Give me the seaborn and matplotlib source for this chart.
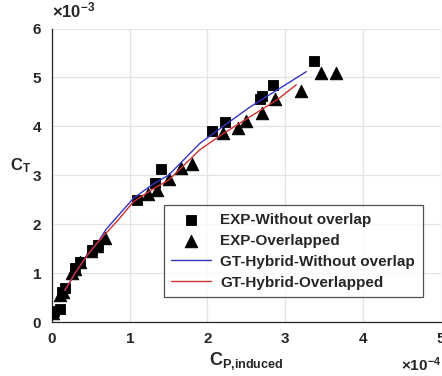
import numpy as np
import pandas as pd
import matplotlib
matplotlib.use("Agg")
import matplotlib.pyplot as plt
import seaborn as sns
from matplotlib.ticker import ScalarFormatter

# EXP data (x in 1e-4, y in 1e-3)
sq_x = [0.03, 0.10, 0.13, 0.17, 0.30, 0.36, 0.52, 0.60, 1.10, 1.33, 1.40,
        2.06, 2.22, 2.67, 2.70, 2.84, 3.37]
sq_y = [0.22, 0.26, 0.62, 0.70, 1.10, 1.22, 1.48, 1.58, 2.50, 2.85, 3.12,
        3.90, 4.08, 4.57, 4.62, 4.85, 5.34]

tri_x = [0.02, 0.11, 0.15, 0.26, 0.30, 0.36, 0.50, 0.58, 0.68, 1.24, 1.35,
         1.50, 1.66, 1.80, 2.20, 2.39, 2.50, 2.70, 2.87, 3.20, 3.46, 3.65]
tri_y = [0.18, 0.55, 0.62, 1.00, 1.08, 1.22, 1.45, 1.55, 1.72, 2.61, 2.70,
         2.92, 3.14, 3.24, 3.87, 3.96, 4.11, 4.27, 4.57, 4.72, 5.09, 5.09]

# GT-Hybrid curves
blue_x = [0.17, 0.30, 0.45, 0.60, 0.70, 0.85, 1.05, 1.30, 1.50, 1.90, 2.20, 2.55, 2.90, 3.27]
blue_y = [0.65, 1.00, 1.35, 1.65, 1.90, 2.17, 2.53, 2.82, 3.00, 3.65, 4.00, 4.40, 4.75, 5.12]
red_x = [0.17, 0.30, 0.45, 0.60, 0.70, 0.85, 1.05, 1.30, 1.50, 1.90, 2.20, 2.55, 2.90, 3.14]
red_y = [0.65, 1.00, 1.35, 1.65, 1.82, 2.08, 2.46, 2.72, 2.90, 3.52, 3.85, 4.20, 4.55, 4.85]

sns.set_style("white")
plt.rcParams['font.family'] = ['Liberation Sans', 'DejaVu Sans']
plt.rcParams['font.weight'] = 'bold'
plt.rcParams['mathtext.fontset'] = 'custom'
plt.rcParams['mathtext.bf'] = 'Liberation Sans:bold'
plt.rcParams['mathtext.rm'] = 'Liberation Sans:bold'
plt.rcParams['mathtext.it'] = 'Liberation Sans:bold'
txt = '#262626'

fig = plt.figure(figsize=(4.42, 3.76), dpi=100)
ax = fig.add_axes([0.117, 0.1436, 0.881, 0.7804])

sq = pd.DataFrame({'x': np.array(sq_x) * 1e-4, 'y': np.array(sq_y) * 1e-3})
tri = pd.DataFrame({'x': np.array(tri_x) * 1e-4, 'y': np.array(tri_y) * 1e-3})
bl = pd.DataFrame({'x': np.array(blue_x) * 1e-4, 'y': np.array(blue_y) * 1e-3})
rd = pd.DataFrame({'x': np.array(red_x) * 1e-4, 'y': np.array(red_y) * 1e-3})

sns.scatterplot(data=sq, x='x', y='y', marker='s', s=60, color='black',
                edgecolor='black', ax=ax, label='EXP-Without overlap', zorder=3)
sns.scatterplot(data=tri, x='x', y='y', marker='^', s=80, color='black',
                edgecolor='black', ax=ax, label='EXP-Overlapped', zorder=3)
sns.lineplot(data=bl, x='x', y='y', sort=False, estimator=None, color='#3535c8',
             lw=1, ax=ax, label='GT-Hybrid-Without overlap', zorder=4)
sns.lineplot(data=rd, x='x', y='y', sort=False, estimator=None, color='#d03030',
             lw=1, ax=ax, label='GT-Hybrid-Overlapped', zorder=4)

ax.set_xlim(0, 5e-4)
ax.set_ylim(0, 6e-3)
ax.set_xticks(np.arange(0, 6) * 1e-4)
ax.set_yticks(np.arange(0, 7) * 1e-3)
for axis in (ax.xaxis, ax.yaxis):
    fmt = ScalarFormatter(useMathText=True)
    fmt.set_powerlimits((0, 0))
    axis.set_major_formatter(fmt)
ax.xaxis.get_offset_text().set_visible(False)
ax.yaxis.get_offset_text().set_visible(False)
fig.text(0.118, 0.945, r'$\times\mathbf{10^{-3}}$', fontsize=12, color=txt,
         ha='left', va='bottom')
fig.text(0.999, 0.029, r'$\times\mathbf{10^{-4}}$', fontsize=11, color=txt,
         ha='right', va='center')

ax.grid(True, color='#e3e3e3', lw=0.9)
ax.tick_params(direction='in', length=3, labelsize=11, colors=txt, pad=7)
sns.despine(ax=ax)
for s in ('left', 'bottom'):
    ax.spines[s].set_color(txt)
    ax.spines[s].set_linewidth(0.9)

ax.set_xlabel(r'$\mathbf{C_{P{,}induced}}$', fontsize=13, color=txt)
ax.xaxis.set_label_coords(0.5, -0.095)
ax.set_ylabel(r'$\mathbf{C_T}$', fontsize=12, color=txt, rotation=0)
ax.yaxis.set_label_coords(-0.08, 0.5)

leg = ax.legend(loc='lower right', bbox_to_anchor=(0.972, 0.058), fontsize=11,
                frameon=True, fancybox=False, handlelength=2.6, borderpad=0.5,
                labelspacing=0.45, handletextpad=0.6)
leg.get_frame().set_edgecolor(txt)
leg.get_frame().set_linewidth(0.9)
for t in leg.get_texts():
    t.set_color(txt)

fig.savefig('out.png', dpi=100)
